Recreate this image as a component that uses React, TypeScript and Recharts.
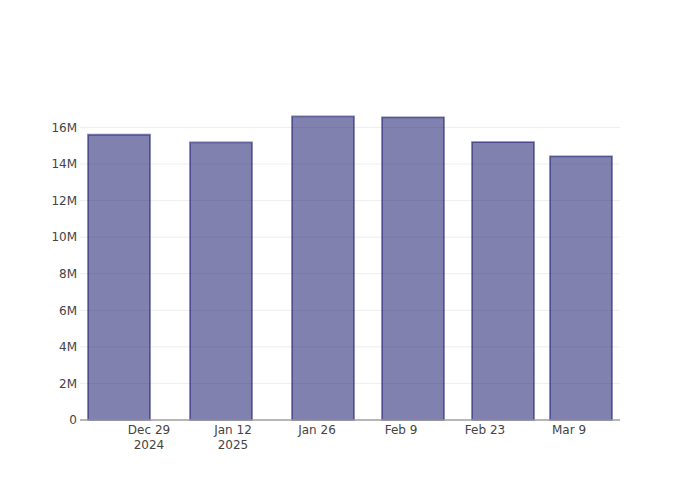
import { BarChart, Bar, XAxis, YAxis, CartesianGrid } from "recharts";

// weekly-ish totals
const barDates = ["2024-12-24", "2025-01-10", "2025-01-27", "2025-02-11", "2025-02-26", "2025-03-11"];
const barValues = [15.6e6, 15.18e6, 16.6e6, 16.55e6, 15.2e6, 14.42e6];

const tickDates = ["2024-12-29", "2025-01-12", "2025-01-26", "2025-02-09", "2025-02-23", "2025-03-09"];
const tickLabels = [["Dec 29", "2024"], ["Jan 12", "2025"], ["Jan 26"], ["Feb 9"], ["Feb 23"], ["Mar 9"]];
const yTicks = [0, 2e6, 4e6, 6e6, 8e6, 10e6, 12e6, 14e6, 16e6];

const toMs = (s: string) => {
  const [y, m, d] = s.split("-").map(Number);
  return Date.UTC(y, m - 1, d);
};

const data = barDates.map((d, i) => ({ t: toMs(d), value: barValues[i] }));
const xTicks = tickDates.map(toMs);
const xMin = Date.UTC(2024, 11, 17, 12);
const xMax = Date.UTC(2025, 2, 17, 12);

const FONT = "'DejaVu Sans', sans-serif";

const DateTick = (props: any) => {
  const { x, y, payload } = props;
  const idx = xTicks.indexOf(payload.value);
  const lines = tickLabels[idx] ?? [];
  return (
    <text x={x} y={y} textAnchor="middle" fill="#444" fontSize={12} fontFamily={FONT}>
      {lines.map((l, i) => (
        <tspan key={i} x={x} dy={i === 0 ? 13.5 : 15.6}>
          {l}
        </tspan>
      ))}
    </text>
  );
};

const fmtY = (v: number) => (v === 0 ? "0" : `${v / 1e6}M`);

export default function App() {
  return (
    <div style={{ position: "absolute", top: 0, left: 0, width: 700, height: 500, background: "#fff" }}>
      <BarChart
        width={700}
        height={500}
        data={data}
        margin={{ top: 100, right: 80, bottom: 40, left: 30 }}
      >
        <CartesianGrid
          vertical={false}
          horizontalValues={yTicks.slice(1)}
          stroke="#eeeeee"
          strokeWidth={1}
        />
        <XAxis
          dataKey="t"
          type="number"
          domain={[xMin, xMax]}
          allowDataOverflow
          ticks={xTicks}
          tick={<DateTick />}
          tickLine={false}
          tickSize={0}
          tickMargin={0}
          height={40}
          axisLine={{ stroke: "#9e9e9e", strokeWidth: 1.5 }}
          interval={0}
        />
        <YAxis
          type="number"
          domain={[0, 17.5e6]}
          ticks={yTicks}
          tickFormatter={fmtY}
          axisLine={false}
          tickLine={false}
          tickSize={0}
          tickMargin={3}
          width={50}
          interval={0}
          tick={{ fill: "#444", fontSize: 12, fontFamily: FONT }}
        />
        <Bar
          dataKey="value"
          barSize={62}
          fill="#191970"
          fillOpacity={0.55}
          stroke="#191970"
          strokeOpacity={0.55}
          strokeWidth={1.8}
          isAnimationActive={false}
        />
      </BarChart>
    </div>
  );
}
